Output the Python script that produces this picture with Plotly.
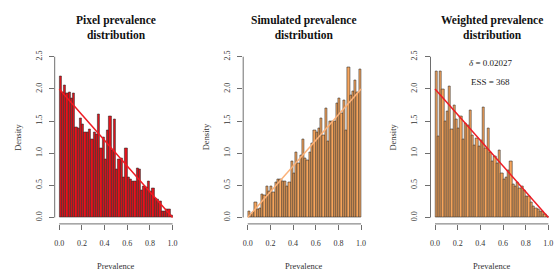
import numpy as np
import plotly.graph_objects as go

# ---------------- data ----------------
bin_width = 0.02
bin_centers = list(np.round(np.arange(50) * bin_width + bin_width / 2, 3))

pixel_density = [2.20, 1.95, 2.05, 1.93, 1.95, 1.85, 1.93, 1.40, 1.38, 1.55,
                 1.45, 1.33, 1.33, 1.37, 1.22, 1.33, 1.30, 1.60, 1.08, 1.25,
                 0.90, 1.35, 1.57, 1.05, 1.53, 0.75, 0.90, 0.92, 0.62, 1.07,
                 0.63, 0.60, 0.57, 0.57, 0.77, 0.75, 0.42, 0.48, 0.47, 0.57,
                 0.40, 0.45, 0.30, 0.28, 0.25, 0.10, 0.10, 0.12, 0.12, 0.03]

simulated_density = [0.09, 0.05, 0.08, 0.24, 0.12, 0.14, 0.36, 0.35, 0.49, 0.40,
                     0.49, 0.39, 0.54, 0.59, 0.60, 0.56, 0.57, 0.49, 0.55, 0.88,
                     0.69, 1.02, 0.84, 0.97, 1.22, 0.92, 0.89, 1.02, 1.16, 1.35,
                     1.33, 1.38, 1.55, 1.28, 1.70, 1.18, 1.49, 1.49, 1.50, 1.78,
                     1.85, 1.62, 1.83, 1.36, 2.34, 1.90, 1.96, 2.13, 1.95, 2.30]

weighted_density = [2.28, 1.27, 2.28, 2.00, 1.49, 1.65, 2.04, 1.37, 1.74, 1.52,
                    1.39, 1.58, 1.22, 1.46, 1.44, 1.67, 1.28, 1.13, 1.23, 1.11,
                    1.20, 1.72, 1.08, 1.38, 1.02, 0.87, 0.95, 0.85, 1.05, 0.69,
                    0.59, 0.63, 0.74, 0.88, 0.51, 0.48, 0.54, 0.45, 0.48, 0.42,
                    0.33, 0.33, 0.23, 0.17, 0.14, 0.13, 0.10, 0.09, 0.05, 0.02]

line_x = [0, 1]
target_decreasing = [2, 0]
target_increasing = [0, 2]

titles = ["Pixel prevalence<br>distribution",
          "Simulated prevalence<br>distribution",
          "Weighted prevalence<br>distribution"]
x_ticks = [0, 0.2, 0.4, 0.6, 0.8, 1.0]
x_ticktext = ["0.0", "0.2", "0.4", "0.6", "0.8", "1.0"]
y_ticks = [0, 0.5, 1.0, 1.5, 2.0, 2.5]
y_ticktext = ["0.0", "0.5", "1.0", "1.5", "2.0", "2.5"]
delta_text = "<i>δ</i> = 0.02027"
ess_text = "ESS = 368"

# ---------------- style ----------------
W, H = 560, 280
FONT = "Liberation Serif"
AXIS_COL = "#6e6e6e"
RED_FILL = "#e5141c"
ORANGE_FILL = "#f7a55c"
RED_LINE = "#ee1c24"
ORANGE_LINE = "#fbb27a"
BORDER = "#262626"

panels = [
    (pixel_density, RED_FILL, target_decreasing, RED_LINE),
    (simulated_density, ORANGE_FILL, target_increasing, ORANGE_LINE),
    (weighted_density, ORANGE_FILL, target_decreasing, RED_LINE),
]
left_px = [54.7, 243.2, 430.5]
width_px = 122.4
y_dom = [1 - 223.9 / H, 1 - 50.3 / H]

fig = go.Figure()
shapes = []
annotations = []
for i, (vals, fill, ly, lcol) in enumerate(panels):
    n = "" if i == 0 else str(i + 1)
    xa, ya = "x" + n, "y" + n
    fig.add_trace(go.Bar(x=bin_centers, y=vals, width=bin_width,
                         marker=dict(color=fill, line=dict(color=BORDER, width=0.55)),
                         xaxis=xa, yaxis=ya, showlegend=False))
    fig.add_trace(go.Scatter(x=line_x, y=ly, mode="lines",
                             line=dict(color=lcol, width=1.5),
                             xaxis=xa, yaxis=ya, showlegend=False))
    dom = [left_px[i] / W, (left_px[i] + width_px) / W]
    fig.layout["xaxis" + n] = dict(
        domain=dom, range=[-0.04, 1.04], anchor=ya, showgrid=False,
        zeroline=False, showline=False, ticks="outside", ticklen=5,
        tickcolor=AXIS_COL, tickwidth=1, tickvals=x_ticks, ticktext=x_ticktext,
        tickfont=dict(family=FONT, size=8, color="#333"), ticklabelstandoff=6,
        ticklabeloverflow="allow")
    fig.layout["yaxis" + n] = dict(
        domain=y_dom, range=[-0.1, 2.6], anchor=xa, showgrid=False,
        zeroline=False, showline=False, ticks="outside", ticklen=5,
        tickcolor=AXIS_COL, tickwidth=1, tickvals=y_ticks, ticktext=y_ticktext,
        tickangle=-90, tickfont=dict(family=FONT, size=8, color="#333"),
        ticklabelstandoff=4, ticklabeloverflow="allow")
    shapes.append(dict(type="line", xref=xa, yref=ya + " domain", x0=0, x1=1,
                       y0=0, y1=0, line=dict(color=AXIS_COL, width=1)))
    shapes.append(dict(type="line", xref=xa + " domain", yref=ya, x0=0, x1=0,
                       y0=0, y1=2.5, line=dict(color=AXIS_COL, width=1)))
    annotations.append(dict(text="<b>" + titles[i] + "</b>", xref=xa, x=0.5,
                            yref="paper", y=1 - 27.5 / H, showarrow=False,
                            xanchor="center", yanchor="middle",
                            font=dict(family=FONT, size=11.5, color="#111")))
    annotations.append(dict(text="Prevalence", xref=xa, x=0.5, yref="paper",
                            y=1 - 266 / H, showarrow=False, xanchor="center",
                            yanchor="middle",
                            font=dict(family=FONT, size=8.5, color="#333")))
    annotations.append(dict(text="Density", xref="paper",
                            x=(left_px[i] - 37) / W, yref=ya, y=1.25,
                            textangle=-90, showarrow=False, xanchor="center",
                            yanchor="middle",
                            font=dict(family=FONT, size=8.5, color="#333")))

annotations.append(dict(text=delta_text, xref="x3", x=0.49, yref="y3", y=2.40,
                        showarrow=False, font=dict(family=FONT, size=9, color="#222")))
annotations.append(dict(text=ess_text, xref="x3", x=0.49, yref="y3", y=2.11,
                        showarrow=False, font=dict(family=FONT, size=9, color="#222")))

fig.update_layout(width=W, height=H, margin=dict(l=0, r=0, t=0, b=0),
                  paper_bgcolor="white", plot_bgcolor="white", bargap=0,
                  shapes=shapes, annotations=annotations, showlegend=False)

fig.write_html("out.html", config={"displayModeBar": False},
               post_script="document.body.style.margin='0';document.body.style.padding='0';")
